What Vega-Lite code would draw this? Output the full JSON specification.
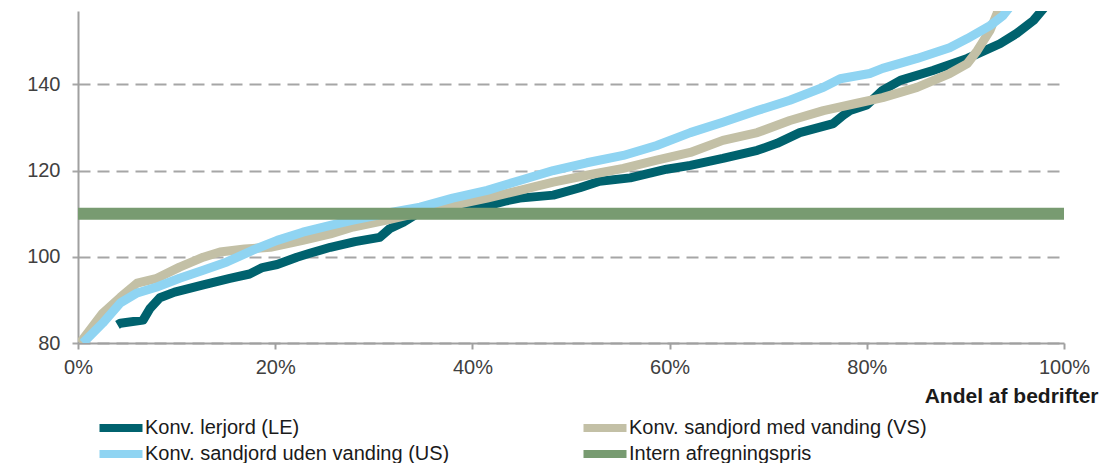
{
  "$schema": "https://vega.github.io/schema/vega-lite/v6.json",
  "width": 986,
  "height": 332,
  "autosize": {"type": "none"},
  "padding": {"left": 78, "top": 11, "right": 38, "bottom": 120},
  "background": "white",
  "config": {
    "view": {"stroke": null},
    "font": "Liberation Sans"
  },
  "datasets": {
    "curves": [
      {"s": "Konv. lerjord (LE)", "x": 4.0, "y": 84.2},
      {"s": "Konv. lerjord (LE)", "x": 4.3, "y": 84.6},
      {"s": "Konv. lerjord (LE)", "x": 6.6, "y": 85.3},
      {"s": "Konv. lerjord (LE)", "x": 7.3, "y": 88},
      {"s": "Konv. lerjord (LE)", "x": 8.3, "y": 90.5},
      {"s": "Konv. lerjord (LE)", "x": 9.8, "y": 91.8},
      {"s": "Konv. lerjord (LE)", "x": 12.7, "y": 93.5},
      {"s": "Konv. lerjord (LE)", "x": 15.4, "y": 95},
      {"s": "Konv. lerjord (LE)", "x": 17.4, "y": 96},
      {"s": "Konv. lerjord (LE)", "x": 18.7, "y": 97.5},
      {"s": "Konv. lerjord (LE)", "x": 20.2, "y": 98.2},
      {"s": "Konv. lerjord (LE)", "x": 22.2, "y": 99.9},
      {"s": "Konv. lerjord (LE)", "x": 23.5, "y": 100.8},
      {"s": "Konv. lerjord (LE)", "x": 25.6, "y": 102.2},
      {"s": "Konv. lerjord (LE)", "x": 28.1, "y": 103.5},
      {"s": "Konv. lerjord (LE)", "x": 30.6, "y": 104.5},
      {"s": "Konv. lerjord (LE)", "x": 31.6, "y": 106.5},
      {"s": "Konv. lerjord (LE)", "x": 33.0, "y": 108},
      {"s": "Konv. lerjord (LE)", "x": 34.4, "y": 110},
      {"s": "Konv. lerjord (LE)", "x": 37.7, "y": 110.5},
      {"s": "Konv. lerjord (LE)", "x": 41.5, "y": 111.8},
      {"s": "Konv. lerjord (LE)", "x": 43.5, "y": 113},
      {"s": "Konv. lerjord (LE)", "x": 44.8, "y": 113.6},
      {"s": "Konv. lerjord (LE)", "x": 48.2, "y": 114.3},
      {"s": "Konv. lerjord (LE)", "x": 50.9, "y": 116},
      {"s": "Konv. lerjord (LE)", "x": 52.9, "y": 117.5},
      {"s": "Konv. lerjord (LE)", "x": 56.0, "y": 118.3},
      {"s": "Konv. lerjord (LE)", "x": 59.7, "y": 120.3},
      {"s": "Konv. lerjord (LE)", "x": 62.1, "y": 121.2},
      {"s": "Konv. lerjord (LE)", "x": 65.4, "y": 122.8},
      {"s": "Konv. lerjord (LE)", "x": 68.9, "y": 124.7},
      {"s": "Konv. lerjord (LE)", "x": 70.9, "y": 126.3},
      {"s": "Konv. lerjord (LE)", "x": 73.2, "y": 128.8},
      {"s": "Konv. lerjord (LE)", "x": 76.6, "y": 130.9},
      {"s": "Konv. lerjord (LE)", "x": 77.6, "y": 132.8},
      {"s": "Konv. lerjord (LE)", "x": 78.3, "y": 133.9},
      {"s": "Konv. lerjord (LE)", "x": 80.0, "y": 135.2},
      {"s": "Konv. lerjord (LE)", "x": 81.6, "y": 138.6},
      {"s": "Konv. lerjord (LE)", "x": 83.4, "y": 140.9},
      {"s": "Konv. lerjord (LE)", "x": 86.7, "y": 143.2},
      {"s": "Konv. lerjord (LE)", "x": 90.2, "y": 146},
      {"s": "Konv. lerjord (LE)", "x": 93.5, "y": 149.4},
      {"s": "Konv. lerjord (LE)", "x": 95.2, "y": 151.8},
      {"s": "Konv. lerjord (LE)", "x": 96.9, "y": 154.8},
      {"s": "Konv. lerjord (LE)", "x": 97.9, "y": 157.5},
      {"s": "Konv. lerjord (LE)", "x": 98.3, "y": 159},
      {"s": "Konv. sandjord med vanding (VS)", "x": 0.2, "y": 80},
      {"s": "Konv. sandjord med vanding (VS)", "x": 2.5, "y": 86.9},
      {"s": "Konv. sandjord med vanding (VS)", "x": 4.3, "y": 90.6},
      {"s": "Konv. sandjord med vanding (VS)", "x": 6.0, "y": 93.9},
      {"s": "Konv. sandjord med vanding (VS)", "x": 8.0, "y": 95},
      {"s": "Konv. sandjord med vanding (VS)", "x": 10.3, "y": 97.6},
      {"s": "Konv. sandjord med vanding (VS)", "x": 12.7, "y": 99.9},
      {"s": "Konv. sandjord med vanding (VS)", "x": 14.4, "y": 101.1},
      {"s": "Konv. sandjord med vanding (VS)", "x": 16.9, "y": 101.8},
      {"s": "Konv. sandjord med vanding (VS)", "x": 19.5, "y": 102.2},
      {"s": "Konv. sandjord med vanding (VS)", "x": 22.8, "y": 103.8},
      {"s": "Konv. sandjord med vanding (VS)", "x": 25.6, "y": 105.3},
      {"s": "Konv. sandjord med vanding (VS)", "x": 27.9, "y": 106.9},
      {"s": "Konv. sandjord med vanding (VS)", "x": 31.3, "y": 108.5},
      {"s": "Konv. sandjord med vanding (VS)", "x": 34.7, "y": 110.3},
      {"s": "Konv. sandjord med vanding (VS)", "x": 38.0, "y": 111.9},
      {"s": "Konv. sandjord med vanding (VS)", "x": 41.5, "y": 113.6},
      {"s": "Konv. sandjord med vanding (VS)", "x": 44.8, "y": 115.4},
      {"s": "Konv. sandjord med vanding (VS)", "x": 48.2, "y": 117.3},
      {"s": "Konv. sandjord med vanding (VS)", "x": 51.6, "y": 118.9},
      {"s": "Konv. sandjord med vanding (VS)", "x": 55.3, "y": 120.5},
      {"s": "Konv. sandjord med vanding (VS)", "x": 58.7, "y": 122.4},
      {"s": "Konv. sandjord med vanding (VS)", "x": 62.1, "y": 124.2},
      {"s": "Konv. sandjord med vanding (VS)", "x": 65.4, "y": 127},
      {"s": "Konv. sandjord med vanding (VS)", "x": 68.9, "y": 128.8},
      {"s": "Konv. sandjord med vanding (VS)", "x": 72.2, "y": 131.6},
      {"s": "Konv. sandjord med vanding (VS)", "x": 75.6, "y": 133.9},
      {"s": "Konv. sandjord med vanding (VS)", "x": 79.0, "y": 135.6},
      {"s": "Konv. sandjord med vanding (VS)", "x": 81.6, "y": 136.9},
      {"s": "Konv. sandjord med vanding (VS)", "x": 85.1, "y": 139.3},
      {"s": "Konv. sandjord med vanding (VS)", "x": 88.4, "y": 142.5},
      {"s": "Konv. sandjord med vanding (VS)", "x": 90.2, "y": 144.8},
      {"s": "Konv. sandjord med vanding (VS)", "x": 91.2, "y": 147.8},
      {"s": "Konv. sandjord med vanding (VS)", "x": 92.5, "y": 152.5},
      {"s": "Konv. sandjord med vanding (VS)", "x": 93.2, "y": 156.4},
      {"s": "Konv. sandjord med vanding (VS)", "x": 93.6, "y": 159},
      {"s": "Konv. sandjord uden vanding (US)", "x": 0.5, "y": 80},
      {"s": "Konv. sandjord uden vanding (US)", "x": 2.5, "y": 84.6},
      {"s": "Konv. sandjord uden vanding (US)", "x": 4.3, "y": 89.3},
      {"s": "Konv. sandjord uden vanding (US)", "x": 6.0, "y": 91.6},
      {"s": "Konv. sandjord uden vanding (US)", "x": 8.0, "y": 93},
      {"s": "Konv. sandjord uden vanding (US)", "x": 10.3, "y": 95},
      {"s": "Konv. sandjord uden vanding (US)", "x": 12.7, "y": 96.9},
      {"s": "Konv. sandjord uden vanding (US)", "x": 15.1, "y": 98.8},
      {"s": "Konv. sandjord uden vanding (US)", "x": 17.7, "y": 101.5},
      {"s": "Konv. sandjord uden vanding (US)", "x": 20.2, "y": 103.8},
      {"s": "Konv. sandjord uden vanding (US)", "x": 22.8, "y": 105.7},
      {"s": "Konv. sandjord uden vanding (US)", "x": 25.6, "y": 107.3},
      {"s": "Konv. sandjord uden vanding (US)", "x": 27.9, "y": 108.5},
      {"s": "Konv. sandjord uden vanding (US)", "x": 31.3, "y": 110.1},
      {"s": "Konv. sandjord uden vanding (US)", "x": 34.7, "y": 111.5},
      {"s": "Konv. sandjord uden vanding (US)", "x": 38.0, "y": 113.6},
      {"s": "Konv. sandjord uden vanding (US)", "x": 41.5, "y": 115.4},
      {"s": "Konv. sandjord uden vanding (US)", "x": 44.8, "y": 117.7},
      {"s": "Konv. sandjord uden vanding (US)", "x": 48.2, "y": 120},
      {"s": "Konv. sandjord uden vanding (US)", "x": 51.6, "y": 121.8},
      {"s": "Konv. sandjord uden vanding (US)", "x": 55.3, "y": 123.5},
      {"s": "Konv. sandjord uden vanding (US)", "x": 58.7, "y": 125.8},
      {"s": "Konv. sandjord uden vanding (US)", "x": 62.1, "y": 128.8},
      {"s": "Konv. sandjord uden vanding (US)", "x": 65.4, "y": 131.2},
      {"s": "Konv. sandjord uden vanding (US)", "x": 68.9, "y": 133.9},
      {"s": "Konv. sandjord uden vanding (US)", "x": 72.2, "y": 136.3},
      {"s": "Konv. sandjord uden vanding (US)", "x": 75.6, "y": 139.3},
      {"s": "Konv. sandjord uden vanding (US)", "x": 77.3, "y": 141.3},
      {"s": "Konv. sandjord uden vanding (US)", "x": 80.3, "y": 142.5},
      {"s": "Konv. sandjord uden vanding (US)", "x": 81.6, "y": 143.7},
      {"s": "Konv. sandjord uden vanding (US)", "x": 85.1, "y": 146},
      {"s": "Konv. sandjord uden vanding (US)", "x": 88.4, "y": 148.5},
      {"s": "Konv. sandjord uden vanding (US)", "x": 90.2, "y": 150.6},
      {"s": "Konv. sandjord uden vanding (US)", "x": 92.5, "y": 153.6},
      {"s": "Konv. sandjord uden vanding (US)", "x": 93.8, "y": 155.9},
      {"s": "Konv. sandjord uden vanding (US)", "x": 94.7, "y": 158.5}
    ],
    "price": [
      {"s": "Intern afregningspris", "x": 0, "y": 110},
      {"s": "Intern afregningspris", "x": 100, "y": 110}
    ]
  },
  "encoding": {
    "x": {
      "field": "x",
      "type": "quantitative",
      "scale": {"domain": [0, 100], "nice": false},
      "axis": {
        "values": [0, 20, 40, 60, 80, 100],
        "labelExpr": "datum.value + '%'",
        "grid": false,
        "domainColor": "#a0a0a0",
        "domainWidth": 2,
        "tickColor": "#a0a0a0",
        "tickWidth": 2,
        "tickSize": 6,
        "labelFontSize": 20,
        "labelColor": "#404040",
        "labelPadding": 8,
        "labelFlush": false,
        "title": "Andel af bedrifter",
        "titleFontSize": 21,
        "titleFontWeight": "bold",
        "titleColor": "#1a1a1a",
        "titleAnchor": "end",
        "titleAlign": "right",
        "titleBaseline": "middle",
        "titleX": 1020,
        "titleY": 53
      }
    },
    "y": {
      "field": "y",
      "type": "quantitative",
      "scale": {"domain": [80, 157], "nice": false, "zero": false},
      "axis": {
        "values": [80, 100, 120, 140],
        "title": null,
        "grid": true,
        "gridColor": "#a6a6a6",
        "gridWidth": 2,
        "gridDash": [12, 7],
        "domainColor": "#a0a0a0",
        "domainWidth": 2,
        "tickColor": "#a6a6a6",
        "tickWidth": 2,
        "tickSize": 6,
        "labelFontSize": 20,
        "labelColor": "#404040",
        "labelPadding": 12
      }
    },
    "color": {
      "field": "s",
      "type": "nominal",
      "scale": {
        "domain": ["Konv. lerjord (LE)", "Konv. sandjord uden vanding (US)", "Konv. sandjord med vanding (VS)", "Intern afregningspris"],
        "range": ["#00626e", "#8fd4f2", "#c3c0a6", "#789b71"]
      },
      "legend": {
        "orient": "none",
        "legendX": 33,
        "legendY": 407,
        "title": null,
        "columns": 2,
        "columnPadding": 117,
        "rowPadding": -8,
        "padding": 0,
        "symbolType": "M-4.3,0H4.3",
        "symbolSize": 100,
        "symbolStrokeWidth": 8,
        "labelOffset": 14,
        "labelFontSize": 20,
        "labelColor": "#1a1a1a",
        "labelLimit": 600
      }
    }
  },
  "layer": [
    {
      "data": {"name": "curves"},
      "mark": {"type": "line", "strokeWidth": 9, "clip": true, "strokeJoin": "round"}
    },
    {
      "data": {"name": "price"},
      "mark": {"type": "line", "strokeWidth": 12, "strokeCap": "butt"}
    }
  ]
}
